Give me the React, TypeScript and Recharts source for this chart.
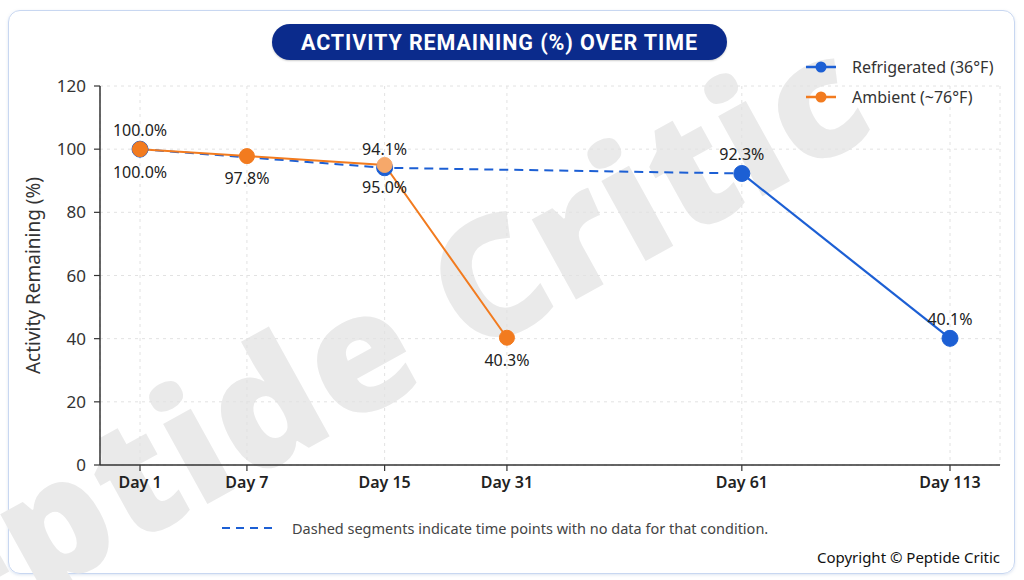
import React from "react";
import { LineChart, Line, XAxis, YAxis, CartesianGrid, Legend, LabelList } from "recharts";

// ---- data ----
const days = ["Day 1", "Day 7", "Day 15", "Day 31", "Day 61", "Day 113"];
const seriesNames = ["Refrigerated (36°F)", "Ambient (~76°F)"];
const refrigerated: (number | null)[] = [100.0, null, 94.1, null, 92.3, 40.1];
const ambient: (number | null)[] = [100.0, 97.8, 95.0, 40.3, null, null];
const yTicks = [0, 20, 40, 60, 80, 100, 120];
// last refrigerated index reached through missing time points (dashed part ends here)
const refrigeratedDashedEnd = 4;

// axis layout: where each day sits along the (non-uniform) time axis, 0..100
const dayAxisPos = [0, 13.2, 30.2, 45.3, 74.3, 100];

const BLUE = "#1c5fd4";
const ORANGE = "#f27b1f";
const LIGHT_ORANGE = "#f6a86a";
const FONT = "'Noto Sans', 'Open Sans', sans-serif";

const data = days.map((d, i) => ({
  day: d,
  pos: dayAxisPos[i],
  refrigerated: refrigerated[i],
  refrigDashed: i <= refrigeratedDashedEnd ? refrigerated[i] : null,
  refrigSolid: i >= refrigeratedDashedEnd ? refrigerated[i] : null,
  ambient: ambient[i],
}));

const fmtPct = (v: any) => (v == null ? "" : `${Number(v).toFixed(1)}%`);

const AmbientDot = (props: any) => {
  const { cx, cy, index } = props;
  if (cx == null || cy == null || props.value == null) return <g key={`ad-${index}`} />;
  const fill = days[index] === "Day 15" ? LIGHT_ORANGE : ORANGE;
  return <circle key={`ad-${index}`} cx={cx} cy={cy} r={7.5} fill={fill} stroke={fill} strokeWidth={1} />;
};

const LegendContent = (props: any) => {
  const items = (props.payload || [])
    .filter((p: any) => p.type !== "none" && seriesNames.includes(p.value))
    .sort((a: any, b: any) => seriesNames.indexOf(a.value) - seriesNames.indexOf(b.value));
  return (
    <div style={{ fontFamily: FONT, fontSize: 16, color: "#333" }}>
      {items.map((p: any) => (
        <div key={p.value} style={{ display: "flex", alignItems: "center", height: 30 }}>
          <svg width={34} height={14} style={{ marginRight: 14 }}>
            <line x1={2} y1={7} x2={32} y2={7} stroke={p.color} strokeWidth={2.5} />
            <circle cx={17} cy={7} r={5.5} fill={p.color} />
          </svg>
          <span>{p.value}</span>
        </div>
      ))}
    </div>
  );
};

const YLabel = (props: any) => {
  const vb = props.viewBox || { x: 0, y: 0, width: 0, height: 0 };
  const cx = vb.x + 13;
  const cy = vb.y + vb.height / 2;
  return (
    <text
      x={cx}
      y={cy}
      transform={`rotate(-90, ${cx}, ${cy})`}
      textAnchor="middle"
      dominantBaseline="central"
      fontFamily={FONT}
      fontSize={19}
      fill="#333"
    >
      Activity Remaining (%)
    </text>
  );
};

export default function App() {
  return (
    <div
      style={{
        position: "absolute",
        left: 0,
        top: 0,
        width: 1024,
        height: 580,
        background: "#fff",
        overflow: "hidden",
        fontFamily: FONT,
      }}
    >
      {/* card */}
      <div
        style={{
          position: "absolute",
          left: 8,
          top: 10,
          width: 1005,
          height: 562,
          border: "1.5px solid #c8d7f1",
          borderRadius: 12,
          boxShadow: "0 1px 3px rgba(120,150,200,0.25)",
        }}
      />
      {/* watermark */}
      <div
        style={{
          position: "absolute",
          left: 335,
          top: 360,
          transform: "translate(-50%, -50%) rotate(-29deg)",
          fontSize: 165,
          fontWeight: 800,
          color: "#eaeaea",
          whiteSpace: "nowrap",
          fontFamily: "'Open Sans', sans-serif",
          letterSpacing: 2,
        }}
      >
        Peptide Critic
      </div>

      <div style={{ position: "absolute", left: 0, top: 0 }}>
        <LineChart width={1024} height={580} data={data} margin={{ top: 86, right: 24, bottom: 85, left: 20 }}>
          <CartesianGrid stroke="#e2e2e2" strokeDasharray="3 4" />
          <XAxis
            type="number"
            dataKey="pos"
            domain={[0, 100]}
            ticks={dayAxisPos}
            interval={0}
            padding={{ left: 40, right: 50 }}
            tickFormatter={(v: number) => days[dayAxisPos.indexOf(v)] ?? ""}
            height={30}
            tickSize={6}
            tickMargin={6}
            axisLine={{ stroke: "#333", strokeWidth: 1.5 }}
            tickLine={{ stroke: "#333", strokeWidth: 1.2 }}
            tick={{ fill: "#222", fontSize: 16, fontWeight: 600, fontFamily: FONT }}
          />
          <YAxis
            domain={[0, 120]}
            ticks={yTicks}
            interval={0}
            width={80}
            tickSize={6}
            tickMargin={8}
            axisLine={{ stroke: "#333", strokeWidth: 1.5 }}
            tickLine={{ stroke: "#333", strokeWidth: 1.2 }}
            tick={{ fill: "#333", fontSize: 17, fontFamily: FONT }}
            label={{ content: YLabel } as any}
          />
          <Legend
            layout="vertical"
            align="center"
            verticalAlign="middle"
            wrapperStyle={{ left: 804, top: 52, width: 210 }}
            content={LegendContent}
          />
          <Line
            dataKey="refrigDashed"
            stroke={BLUE}
            strokeWidth={2}
            strokeDasharray="9 6"
            connectNulls
            dot={false}
            activeDot={false}
            legendType="none"
            isAnimationActive={false}
          />
          <Line
            dataKey="refrigSolid"
            stroke={BLUE}
            strokeWidth={2.2}
            dot={false}
            activeDot={false}
            legendType="none"
            isAnimationActive={false}
          />
          <Line
            dataKey="refrigerated"
            name={seriesNames[0]}
            stroke={BLUE}
            strokeOpacity={0}
            dot={{ r: 8, fill: BLUE, stroke: BLUE, strokeOpacity: 1, strokeWidth: 1 }}
            activeDot={false}
            isAnimationActive={false}
          >
            <LabelList
              dataKey="refrigerated"
              position="top"
              offset={13}
              formatter={fmtPct}
              fill="#222"
              fontSize={16}
              fontFamily={FONT}
            />
          </Line>
          <Line
            dataKey="ambient"
            name={seriesNames[1]}
            stroke={ORANGE}
            strokeWidth={2}
            dot={AmbientDot}
            activeDot={false}
            isAnimationActive={false}
          >
            <LabelList
              dataKey="ambient"
              position="bottom"
              offset={17}
              formatter={fmtPct}
              fill="#222"
              fontSize={16}
              fontFamily={FONT}
            />
          </Line>
        </LineChart>
      </div>

      {/* title pill */}
      <div
        style={{
          position: "absolute",
          left: 272,
          top: 24,
          width: 455,
          height: 36,
          borderRadius: 18,
          background: "#0b2b8c",
          color: "#fff",
          fontFamily: "Roboto, sans-serif",
          fontWeight: 700,
          fontSize: 21.5,
          display: "flex",
          alignItems: "center",
          justifyContent: "center",
          letterSpacing: 0.9,
          boxShadow: "0 1px 2px rgba(0,0,0,0.2)",
        }}
      >
        ACTIVITY REMAINING (%) OVER TIME
      </div>

      {/* dashed note */}
      <div
        style={{
          position: "absolute",
          left: 220,
          top: 518,
          display: "flex",
          alignItems: "center",
          fontSize: 14.5,
          color: "#444",
          fontFamily: FONT,
        }}
      >
        <svg width={58} height={10} style={{ marginRight: 14 }}>
          <line x1={2} y1={5} x2={56} y2={5} stroke={BLUE} strokeWidth={2.2} strokeDasharray="8 6" />
        </svg>
        <span>Dashed segments indicate time points with no data for that condition.</span>
      </div>

      {/* copyright */}
      <div
        style={{
          position: "absolute",
          right: 24,
          top: 547,
          fontSize: 15,
          color: "#111",
          fontFamily: FONT,
        }}
      >
        Copyright © Peptide Critic
      </div>
    </div>
  );
}
